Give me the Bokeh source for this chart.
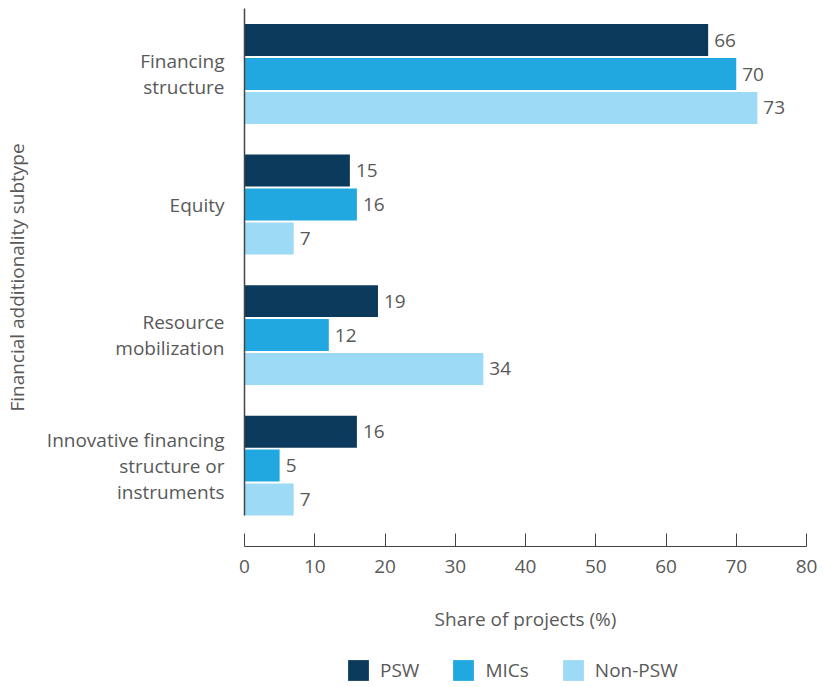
from bokeh.plotting import figure
from bokeh.layouts import column
from bokeh.models import Range1d, FixedTicker, Legend, LegendItem, ColumnDataSource
from bokeh.core.properties import value
from bokeh.embed import file_html
from bokeh.resources import INLINE

categories = ["Financing\nstructure", "Equity", "Resource\nmobilization",
              "Innovative financing\nstructure or\ninstruments"]
series = ["PSW", "MICs", "Non-PSW"]
psw = [66, 15, 19, 16]
mics = [70, 16, 12, 5]
non_psw = [73, 7, 34, 7]
colors = ["#0B3A5C", "#22A8E0", "#9DDAF5"]
x_ticks = [0, 10, 20, 30, 40, 50, 60, 70, 80]

FONT = "Open Sans"
TXT = "#595959"

p = figure(frame_width=562, frame_height=538, output_backend="svg", toolbar_location=None,
           x_range=Range1d(0, 80), y_range=Range1d(3.62, -0.502),
           min_border_left=244, min_border_right=19, min_border_top=8, min_border_bottom=94)
p.outline_line_color = None
p.xgrid.visible = False
p.ygrid.visible = False

offsets = [-0.26, 0.0, 0.26]
for vals, name, col, off in zip([psw, mics, non_psw], series, colors, offsets):
    ys = [i + off for i in range(len(categories))]
    src = ColumnDataSource(dict(y=ys, right=vals, lab=[str(v) for v in vals]))
    p.hbar(y="y", right="right", left=0, height=0.245, source=src,
           fill_color=col, line_color=None)
    p.text(x="right", y="y", text="lab", source=src, x_offset=6,
           text_baseline="middle", text_align="left",
           text_font=value(FONT), text_font_size="19px", text_color=TXT)

# y axis
p.yaxis.ticker = FixedTicker(ticks=list(range(len(categories))))
p.yaxis.major_label_overrides = {i: c for i, c in enumerate(categories)}
p.yaxis.major_tick_line_color = None
p.yaxis.minor_tick_line_color = None
p.yaxis.axis_line_color = "#444444"
p.yaxis.axis_line_width = 1.5
p.yaxis.bounds = (-0.502, 3.383)
p.yaxis.major_label_standoff = 14
p.yaxis.major_label_text_font = FONT
p.yaxis.major_label_text_font_size = "19px"
p.yaxis.major_label_text_line_height = 1.0
p.yaxis.major_label_text_color = TXT
p.yaxis.major_label_text_align = "right"
p.yaxis.axis_label = "Financial additionality subtype"
p.yaxis.axis_label_text_font = FONT
p.yaxis.axis_label_text_font_style = "normal"
p.yaxis.axis_label_text_font_size = "19px"
p.yaxis.axis_label_text_color = TXT
p.yaxis.axis_label_standoff = 14

# x axis
p.xaxis.ticker = FixedTicker(ticks=x_ticks)
p.xaxis.major_tick_in = 13
p.xaxis.major_tick_out = 0
p.xaxis.minor_tick_line_color = None
p.xaxis.axis_line_color = "#444444"
p.xaxis.major_tick_line_color = "#444444"
p.xaxis.axis_line_width = 1.2
p.xaxis.major_label_standoff = 13
p.xaxis.major_label_text_font = FONT
p.xaxis.major_label_text_font_size = "19px"
p.xaxis.major_label_text_color = TXT
p.xaxis.axis_label = "Share of projects (%)"
p.xaxis.axis_label_text_font = FONT
p.xaxis.axis_label_text_font_style = "normal"
p.xaxis.axis_label_text_font_size = "19px"
p.xaxis.axis_label_text_color = TXT
p.xaxis.axis_label_standoff = 30

# legend in a strip below the chart (its swatch glyphs sit outside the visible range)
pl = figure(width=825, height=47, output_backend="svg", toolbar_location=None,
            x_axis_type=None, y_axis_type=None, x_range=Range1d(0, 1), y_range=Range1d(0, 1),
            min_border_left=0, min_border_right=0, min_border_top=0, min_border_bottom=0)
pl.outline_line_color = None
pl.xgrid.visible = False
pl.ygrid.visible = False
items = []
for name, col in zip(series, colors):
    r = pl.hbar(y=[-10], right=[1], left=0, height=0.5, fill_color=col, line_color=None)
    items.append(LegendItem(label=name, renderers=[r]))
legend = Legend(items=items, orientation="horizontal", location=(101, 4),
                glyph_width=26, glyph_height=26, label_standoff=9, spacing=31,
                label_text_font=FONT, label_text_font_size="19px", label_text_color=TXT,
                border_line_color=None, background_fill_alpha=0, margin=0, padding=0)
pl.add_layout(legend, "center")

layout = column(p, pl, spacing=0)
open("out.html", "w").write(file_html(layout, INLINE))
